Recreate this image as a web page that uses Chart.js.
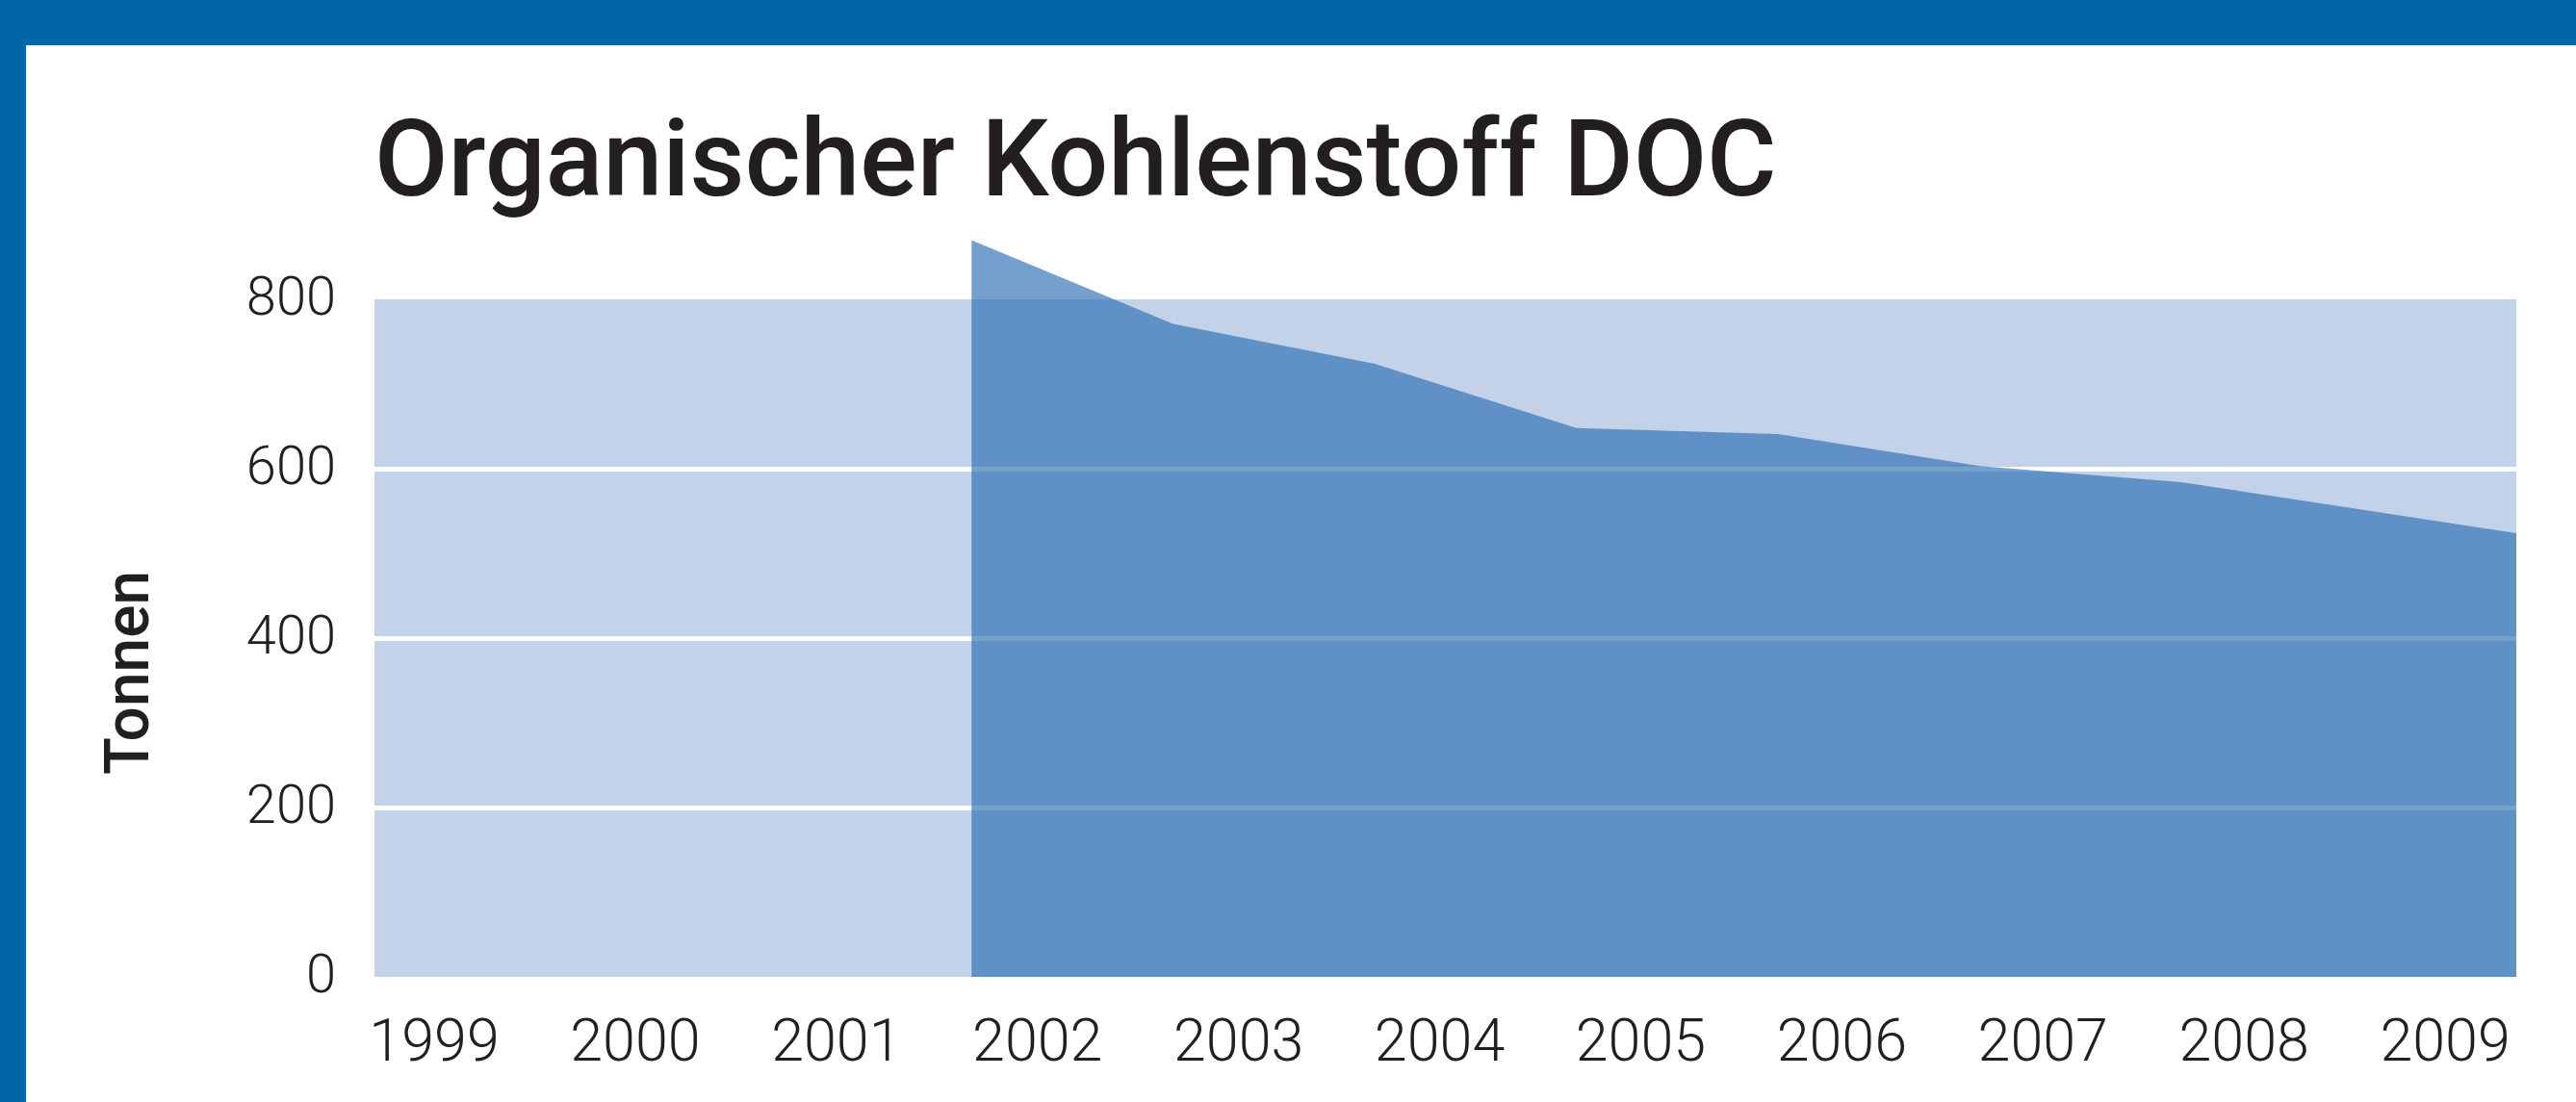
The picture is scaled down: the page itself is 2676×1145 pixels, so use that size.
<!DOCTYPE html>
<html>
<head>
<meta charset="utf-8">
<script src="https://cdn.jsdelivr.net/npm/chart.js@4.4.1/dist/chart.umd.min.js"></script>
<style>
html, body { margin: 0; padding: 0; background: #ffffff; }
#wrap { position: relative; width: 2676px; height: 1145px; overflow: hidden; background: #ffffff; }
#c { position: absolute; left: 0; top: 0; }
#topband { position: absolute; left: 0; top: 0; width: 2676px; height: 47px; background: #0066aa; }
#leftband { position: absolute; left: 0; top: 0; width: 27px; height: 1145px; background: #0066aa; }
</style>
</head>
<body>
<div id="wrap">
  <canvas id="c" width="2676" height="1145"></canvas>
  <div id="topband"></div>
  <div id="leftband"></div>
</div>
<script>
// ---- data ----
const categories = ['1999', '2000', '2001', '2002', '2003', '2004', '2005', '2006', '2007', '2008', '2009'];
const yTickValues = [0, 200, 400, 600, 800];
// position of each value along the year axis as drawn in the reference
// (the last value is drawn at the right edge of the plot)
const dataYears = [2002, 2003, 2004, 2005, 2006, 2007, 2008, 2009.66];
const docTonnen = [870, 771, 724, 648, 641, 603, 584, 524];

const titleText = 'Organischer Kohlenstoff DOC';
const yTitleText = 'Tonnen';

const TEXT = '#231f20';
const PLOT_TOP_VALUE = 800;   // light plot panel runs from 0 to 800
const AXIS_MAX = 880;         // room above the panel for the 2002 peak

// light blue plot panel (0..800) behind the grid lines
const plotBg = {
  id: 'plotBg',
  beforeDraw(chart) {
    const { ctx, chartArea: a } = chart;
    const y = chart.scales.y;
    const top = y.getPixelForValue(PLOT_TOP_VALUE);
    const bottom = y.getPixelForValue(0);
    ctx.save();
    ctx.fillStyle = '#c3d2e8';
    ctx.fillRect(a.left, top, a.right - a.left, bottom - top);
    ctx.restore();
  }
};

// rotated y-axis title
const yTitle = {
  id: 'yTitle',
  afterDraw(chart) {
    const ctx = chart.ctx;
    ctx.save();
    ctx.translate(137.5, 699);
    ctx.rotate(-Math.PI / 2);
    ctx.fillStyle = TEXT;
    ctx.font = '500 64px Roboto';
    ctx.textAlign = 'center';
    ctx.textBaseline = 'middle';
    ctx.fillText(yTitleText, 0, 0);
    ctx.restore();
  }
};

new Chart(document.getElementById('c'), {
  type: 'line',
  data: {
    datasets: [{
      label: 'DOC',
      data: dataYears.map((x, i) => ({ x: x, y: docTonnen[i] })),
      xAxisID: 'xData',
      yAxisID: 'y',
      fill: 'origin',
      backgroundColor: 'rgba(47,113,180,0.67)',
      borderWidth: 0,
      borderColor: 'rgba(0,0,0,0)',
      pointRadius: 0,
      pointHoverRadius: 0,
      tension: 0
    }]
  },
  options: {
    responsive: false,
    animation: false,
    devicePixelRatio: 1,
    layout: { padding: { left: 0, right: 62, top: 0, bottom: 0 } },
    plugins: {
      legend: { display: false },
      tooltip: { enabled: false },
      title: {
        display: true,
        text: titleText,
        align: 'start',
        fullSize: false,
        color: TEXT,
        font: { family: 'Roboto', weight: '500', size: 111, lineHeight: 1 },
        padding: { top: 119.5, bottom: 10.1 }
      }
    },
    scales: {
      x: {
        type: 'linear',
        position: 'bottom',
        bounds: 'data',
        min: 1998.703,
        max: 2009.354,
        grid: { display: false },
        border: { display: false },
        afterBuildTicks: (s) => { s.ticks = categories.map(c => ({ value: Number(c) })); },
        afterFit: (s) => { s.height = 130; },
        ticks: {
          autoSkip: false,
          maxRotation: 0,
          minRotation: 0,
          padding: 27,
          color: TEXT,
          font: { family: 'Roboto', weight: '300', size: 61, lineHeight: 1.2 },
          callback: (v) => {
            const i = categories.indexOf(String(Math.round(v)));
            return i >= 0 ? categories[i] : '';
          }
        }
      },
      xData: {
        type: 'linear',
        display: false,
        min: 1999.04,
        max: 2009.66
      },
      y: {
        type: 'linear',
        position: 'left',
        min: 0,
        max: AXIS_MAX,
        afterBuildTicks: (s) => { s.ticks = yTickValues.map(v => ({ value: v })); },
        afterFit: (s) => { s.width = 389; },
        grid: {
          drawTicks: false,
          lineWidth: 5,
          color: (ctx) => (ctx.tick && ctx.tick.value > 0 && ctx.tick.value < PLOT_TOP_VALUE) ? '#ffffff' : 'rgba(0,0,0,0)'
        },
        border: { display: false },
        ticks: {
          padding: 40,
          labelOffset: 2,
          color: TEXT,
          font: { family: 'Roboto', weight: '300', size: 56, lineHeight: 1.2 },
          callback: (v) => String(v)
        },
        title: { display: false }
      }
    }
  },
  plugins: [plotBg, yTitle]
});
</script>
</body>
</html>
